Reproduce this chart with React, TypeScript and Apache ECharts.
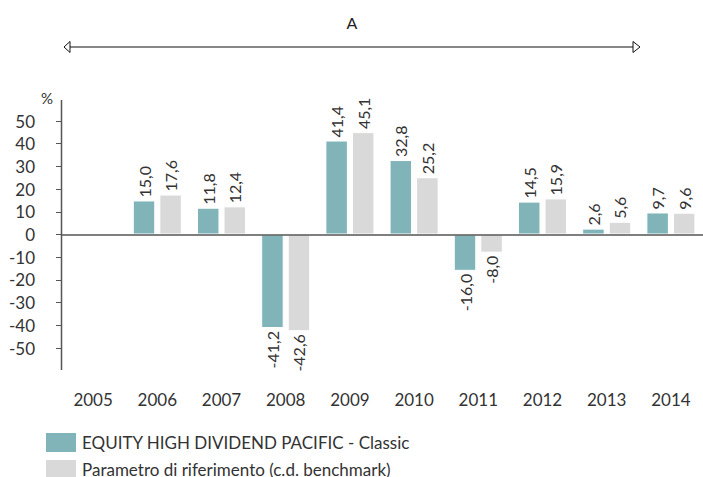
import React, { useEffect, useRef } from 'react';
import * as echarts from 'echarts';

const years = ['2005', '2006', '2007', '2008', '2009', '2010', '2011', '2012', '2013', '2014'];
const fundValues: (number | null)[] = [null, 15.0, 11.8, -41.2, 41.4, 32.8, -16.0, 14.5, 2.6, 9.7];
const benchmarkValues: (number | null)[] = [null, 17.6, 12.4, -42.6, 45.1, 25.2, -8.0, 15.9, 5.6, 9.6];
const seriesNames = ['EQUITY HIGH DIVIDEND PACIFIC - Classic', 'Parametro di riferimento (c.d. benchmark)'];
const seriesColors = ['#80b4b9', '#d9d9d9'];
const yMin = -50;
const yMax = 50;
const yInterval = 10;
const unitLabel = '%';
const periodLabel = 'A';

const FONT = 'Lato';

function toData(vals: (number | null)[]) {
  return vals.map((v) =>
    v == null
      ? null
      : {
          value: v,
          label: {
            position: v >= 0 ? 'top' : 'bottom',
            align: v >= 0 ? 'left' : 'right',
          },
        }
  );
}

export default function App() {
  const ref = useRef<HTMLDivElement>(null);
  useEffect(() => {
    if (!ref.current) return;
    const chart = echarts.init(ref.current, undefined, { renderer: 'svg' });
    const labelCfg = {
      show: true,
      rotate: 90,
      verticalAlign: 'middle',
      distance: 3,
      fontSize: 16,
      fontFamily: FONT,
      color: '#333',
      formatter: (p: any) => Number(p.value).toFixed(1).replace('.', ','),
    };
    chart.setOption({
      animation: false,
      textStyle: { fontFamily: FONT },
      grid: { left: 61, right: -5, top: 121, bottom: 129, containLabel: false },
      legend: {
        orient: 'vertical',
        left: 44,
        top: 431,
        height: 80,
        padding: 0,
        itemWidth: 32,
        itemHeight: 21,
        itemGap: 4,
        icon: 'rect',
        textStyle: { fontSize: 17, color: '#333', fontFamily: FONT, lineHeight: 18 },
        data: seriesNames,
      },
      xAxis: {
        type: 'category',
        data: years,
        position: 'bottom',
        axisLine: { show: false, onZero: false },
        axisTick: { show: false },
        axisLabel: { margin: 43, fontSize: 17, color: '#333', fontFamily: FONT },
      },
      yAxis: {
        type: 'value',
        min: yMin,
        max: yMax,
        interval: yInterval,
        name: unitLabel,
        nameLocation: 'end',
        nameGap: 16,
        nameTextStyle: { align: 'right', padding: [0, 8, 0, 0], fontSize: 15, color: '#333', fontFamily: FONT },
        axisLine: { show: false },
        axisTick: { show: true, length: 5, lineStyle: { color: '#555', width: 1 } },
        splitLine: { show: false },
        axisLabel: { margin: 26, fontSize: 17, color: '#333', fontFamily: FONT },
      },
      series: [
        {
          name: seriesNames[0],
          type: 'bar',
          data: toData(fundValues),
          barWidth: 22.5,
          barGap: '18%',
          itemStyle: { color: seriesColors[0], borderColor: '#ffffff', borderWidth: 1 },
          label: labelCfg,
          markLine: {
            silent: true,
            symbol: 'none',
            label: { show: false },
            lineStyle: { color: '#555', width: 1.5, type: 'solid' },
            data: [{ yAxis: 0 }],
          },
        },
        {
          name: seriesNames[1],
          type: 'bar',
          data: toData(benchmarkValues),
          barWidth: 22.5,
          itemStyle: { color: seriesColors[1], borderColor: '#ffffff', borderWidth: 1 },
          label: labelCfg,
        },
      ],
      graphic: [
        {
          type: 'line',
          shape: { x1: 61.5, y1: 100, x2: 61.5, y2: 370 },
          style: { stroke: '#555', lineWidth: 1.5 },
        },
        {
          type: 'text',
          x: 352,
          y: 22,
          style: { text: periodLabel, fontSize: 16, fill: '#222', fontFamily: FONT, textAlign: 'center', textVerticalAlign: 'middle' },
        },
        {
          type: 'line',
          shape: { x1: 69, y1: 47, x2: 633, y2: 47 },
          style: { stroke: '#111', lineWidth: 1.2 },
        },
        {
          type: 'polygon',
          shape: { points: [[64, 47], [70, 41.5], [70, 52.5]] },
          style: { stroke: '#111', fill: '#fff', lineWidth: 1 },
        },
        {
          type: 'polygon',
          shape: { points: [[640, 47], [633, 41.5], [633, 52.5]] },
          style: { stroke: '#111', fill: '#fff', lineWidth: 1 },
        },
      ],
    });
    return () => chart.dispose();
  }, []);
  return <div ref={ref} style={{ position: 'absolute', left: 0, top: 0, width: 703, height: 477 }} />;
}
